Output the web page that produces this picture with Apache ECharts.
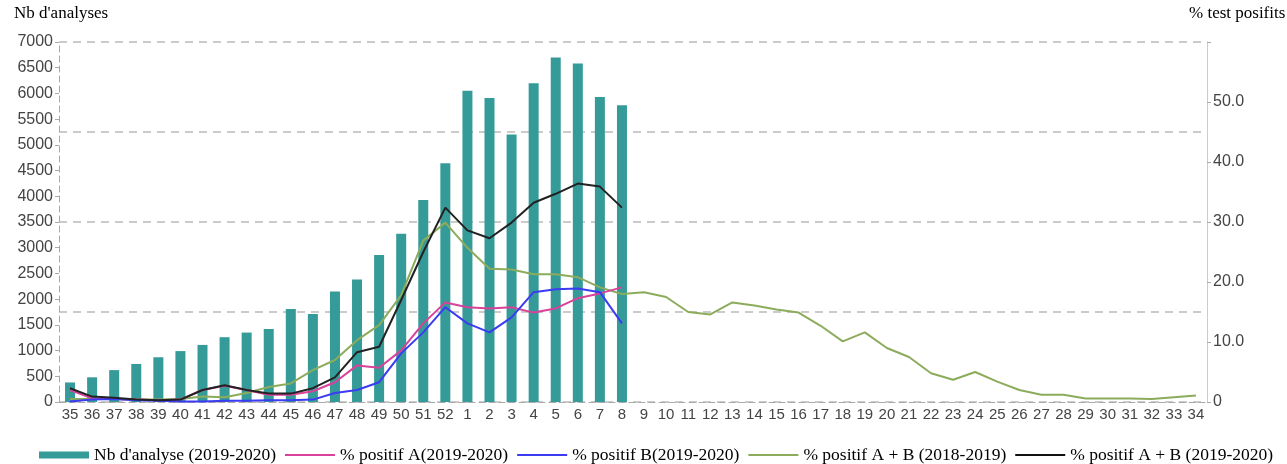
<!DOCTYPE html>
<html>
<head>
<meta charset="utf-8">
<script src="https://cdn.jsdelivr.net/npm/echarts@6/dist/echarts.min.js"></script>
<style>html,body{margin:0;padding:0;background:#fff}#c{width:1287px;height:464px}</style>
</head>
<body>
<div id="c"></div>
<script>
const weeks = ['35','36','37','38','39','40','41','42','43','44','45','46','47','48','49','50','51','52',
  '1','2','3','4','5','6','7','8','9','10','11','12','13','14','15','16','17','18','19','20','21','22','23','24','25','26','27','28','29','30','31','32','33','34'];
const nbAnalyses = [380,480,620,740,870,990,1110,1260,1350,1420,1810,1710,2150,2380,2860,3270,3930,4640,
  6050,5910,5200,6200,6700,6580,5930,5770];
const posA = [2.0,0.6,0.5,0.4,0.3,0.4,2.0,2.7,2.0,1.2,1.2,1.8,3.3,6.1,5.7,8.6,13.1,16.6,
  15.8,15.6,15.8,14.9,15.6,17.3,18.1,19.1];
const posB = [0.1,0.4,0.5,0.3,0.2,0.1,0.1,0.2,0.2,0.3,0.3,0.4,1.5,2.0,3.3,8.1,11.6,15.8,
  13.1,11.6,14.1,18.3,18.8,18.9,18.3,13.1];
const posAB1819 = [0.5,0.5,0.5,0.4,0.4,0.5,0.9,0.8,1.5,2.5,3.1,5.3,7.0,10.3,12.8,17.8,26.9,29.9,
  25.7,22.2,22.1,21.3,21.3,20.8,19.1,18.0,18.3,17.5,15.0,14.6,16.6,16.1,15.4,14.9,12.7,10.1,11.6,9.0,7.5,4.8,3.7,5.0,3.4,2.0,1.2,1.2,0.6,0.6,0.6,0.5,0.8,1.1];
const posAB1920 = [2.3,0.9,0.7,0.4,0.3,0.4,2.0,2.8,2.0,1.4,1.4,2.3,4.1,8.3,9.2,17.0,25.0,32.4,
  28.6,27.3,29.9,33.2,34.7,36.4,35.9,32.4];
const names = ["Nb d'analyse (2019-2020)", "% positif A(2019-2020)", "% positif B(2019-2020)",
  "% positif A + B (2018-2019)", "% positif A + B (2019-2020)"];

const lineIcon = 'path://M0,0H50V2H0Z';
const axisFont = {fontFamily: '"Liberation Sans", Arial, sans-serif', fontSize: 16, color: '#444'};
const chart = echarts.init(document.getElementById('c'));
chart.setOption({
  animation: false,
  grid: {left: 59, right: 80, top: 42, bottom: 62, containLabel: false},
  graphic: [
    {type: 'text', left: 14, top: 5, style: {text: "Nb d'analyses", font: '17px "Liberation Serif"', fill: '#000'}},
    {type: 'text', left: 1189, top: 5, style: {text: '% test posifits', font: '17px "Liberation Serif"', fill: '#000'}}
  ],
  legend: {
    left: 34, top: 441, itemWidth: 50, itemHeight: 7, itemGap: 9,
    textStyle: {fontFamily: '"Liberation Serif", serif', fontSize: 17.5, color: '#000'},
    data: [
      {name: names[0], icon: 'rect'},
      {name: names[1], icon: lineIcon},
      {name: names[2], icon: lineIcon},
      {name: names[3], icon: lineIcon},
      {name: names[4], icon: lineIcon}
    ]
  },
  xAxis: {
    type: 'category', data: weeks, boundaryGap: true,
    axisLine: {lineStyle: {color: '#aaa', type: [6, 4]}},
    axisTick: {alignWithLabel: true, length: 5, lineStyle: {color: '#aaa'}},
    axisLabel: {interval: 0, fontSize: 15, margin: 5, fontFamily: axisFont.fontFamily, color: '#444'}
  },
  yAxis: [
    {type: 'value', min: 0, max: 7000, interval: 500, position: 'left',
     axisLine: {show: true, lineStyle: {color: '#aaa', type: [6, 4]}},
     axisTick: {show: true, length: 4, lineStyle: {color: '#aaa'}},
     axisLabel: Object.assign({margin: 6, formatter: v => String(v)}, axisFont),
     splitLine: {show: false}},
    {type: 'value', min: 0, max: 60, interval: 10, position: 'right',
     axisLine: {show: true, lineStyle: {color: '#ccc'}},
     axisTick: {show: true, length: 4, lineStyle: {color: '#aaa'}},
     axisLabel: Object.assign({margin: 6, formatter: v => v === 0 ? '0' : (v >= 60 ? '' : v.toFixed(1))}, axisFont),
     splitLine: {show: false}},
    {type: 'value', min: 0, max: 4, interval: 1, position: 'left', show: true,
     axisLine: {show: false}, axisTick: {show: false}, axisLabel: {show: false},
     splitLine: {show: true, lineStyle: {color: '#bbb', type: [8, 6], width: 1.5}}}
  ],
  series: [
    {name: names[0], type: 'bar', yAxisIndex: 0, data: nbAnalyses, barWidth: 10,
     itemStyle: {color: '#359b98'}, z: 1},
    {name: names[1], type: 'line', yAxisIndex: 1, data: posA, symbol: 'none',
     lineStyle: {color: '#d9419a', width: 2}, itemStyle: {color: '#d9419a'}, z: 3},
    {name: names[2], type: 'line', yAxisIndex: 1, data: posB, symbol: 'none',
     lineStyle: {color: '#3b3bf2', width: 2}, itemStyle: {color: '#3b3bf2'}, z: 3},
    {name: names[3], type: 'line', yAxisIndex: 1, data: posAB1819, symbol: 'none',
     lineStyle: {color: '#8cac5c', width: 2}, itemStyle: {color: '#8cac5c'}, z: 2},
    {name: names[4], type: 'line', yAxisIndex: 1, data: posAB1920, symbol: 'none',
     lineStyle: {color: '#222', width: 2}, itemStyle: {color: '#111'}, z: 4}
  ]
});
</script>
</body>
</html>
